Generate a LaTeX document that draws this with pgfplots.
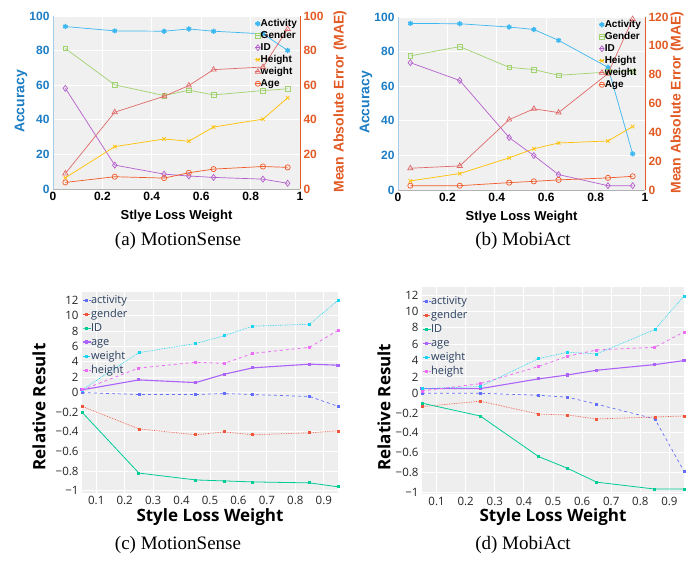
\documentclass[border=0pt]{standalone}
\usepackage{pgfplots}
\pgfplotsset{compat=1.18}
\usepackage{fontspec}
\setmainfont{Liberation Serif}
\newfontfamily\helv{Liberation Sans}
\newfontfamily\osans{Open Sans}

\definecolor{accblue}{RGB}{28,125,196}
\definecolor{maeor}{RGB}{226,90,36}
\definecolor{cAct}{RGB}{60,184,240}
\definecolor{cGen}{RGB}{160,210,110}
\definecolor{cID}{RGB}{180,95,205}
\definecolor{cHei}{RGB}{255,192,0}
\definecolor{cWei}{RGB}{225,105,105}
\definecolor{cAge}{RGB}{240,90,40}
\definecolor{topbg}{RGB}{240,240,240}
\definecolor{pAct}{RGB}{99,110,250}
\definecolor{pGen}{RGB}{239,85,59}
\definecolor{pID}{RGB}{0,204,150}
\definecolor{pAge}{RGB}{171,99,250}
\definecolor{pWei}{RGB}{25,211,243}
\definecolor{pHei}{RGB}{235,110,245}
\definecolor{botbg}{RGB}{238,238,238}
\definecolor{legtxt}{RGB}{42,63,95}

\pgfplotsset{
  topbase/.style={
    scale only axis, width=247pt, height=173pt,
    xmin=0, xmax=1, ymin=0,
    xtick={0,0.2,0.4,0.6,0.8,1},
    major tick length=0pt,
    tick label style={font=\helv\bfseries\fontsize{12}{14}\selectfont},
    /pgf/number format/assume math mode=true,
    label style={font=\helv\bfseries\fontsize{14}{16}\selectfont},
  },
  topleft/.style={
    topbase, ymax=100, ytick={0,20,40,60,80,100},
    axis x line*=bottom, axis y line*=left,
    x axis line style={gray!60,-}, y axis line style={accblue!40,-},
    axis background/.style={fill=topbg},
    grid=major, major grid style={white, line width=0.8pt},
    yticklabel style={accblue},
    ylabel={Accuracy}, ylabel style={accblue, at={(axis description cs:-0.13,0.506)}, anchor=center},
    xlabel={Stlye Loss Weight}, xlabel style={font=\helv\bfseries\fontsize{13}{15}\selectfont, at={(axis description cs:0.5,-0.155)}, anchor=center},
  },
  topright/.style={
    topbase, axis x line=none, axis y line*=right,
    y axis line style={maeor,-},
    yticklabel style={maeor},
    ylabel={Mean Absolute Error (MAE)}, ylabel style={maeor, anchor=center},
    legend cell align=left,
    legend style={anchor=north west, draw=none, fill=none, inner sep=0pt, outer sep=0pt, row sep=0pt,
      font=\helv\bfseries\fontsize{10}{12}\selectfont,
      nodes={inner sep=0pt, text height=8.5pt, text depth=3.5pt},
      /tikz/every even column/.append style={column sep=1pt}},
    legend image code/.code={\draw[mark repeat=2, mark phase=2, #1] plot coordinates {(-2.5pt,0pt) (0pt,0pt) (2.5pt,0pt)};},
  },
  sAct/.style={cAct, line width=0.7pt, mark=asterisk, mark size=2.6pt, mark options={line width=1.4pt}},
  sGen/.style={cGen, line width=0.7pt, mark=square, mark size=2.3pt},
  sID/.style={cID, line width=0.7pt, mark=diamond, mark size=3pt},
  sHei/.style={cHei, line width=0.7pt, mark=x, mark size=2.5pt},
  sWei/.style={cWei, line width=0.7pt, mark=triangle, mark size=3pt},
  sAge/.style={cAge, line width=0.7pt, mark=o, mark size=2.6pt},
  botbase/.style={
    scale only axis,
    xmin=0.05, xmax=0.95,
    xtick={0.1,0.2,0.3,0.4,0.5,0.6,0.7,0.8,0.9},
    ytick={-1,-0.8,-0.6,-0.4,-0.2,0,2,4,6,8,10,12},
    yticklabels={−1,−0.8,−0.6,−0.4,−0.2,0,2,4,6,8,10,12},
    axis line style={draw=none},
    axis background/.style={fill=botbg},
    grid=major, major grid style={white, line width=1pt},
    major tick length=0pt,
    tick label style={font=\osans\fontsize{11.5}{13}\selectfont, text=black!85},
    /pgf/number format/assume math mode=true,
    xlabel={Style Loss Weight}, ylabel={Relative Result},
    label style={font=\osans\bfseries\fontsize{17}{20}\selectfont, anchor=center},
    legend cell align=left,
    legend style={anchor=north west, draw=none, fill=none, inner sep=0pt, outer sep=0pt, row sep=0pt,
      font=\osans\fontsize{11}{13}\selectfont, text=legtxt,
      nodes={inner sep=0pt, text height=10pt, text depth=4pt},
      /tikz/every even column/.append style={column sep=1.5pt}},
    legend image code/.code={\draw[mark repeat=2, mark phase=2, #1] plot coordinates {(0pt,0pt) (4pt,0pt) (8pt,0pt)};},
  },
  bAct/.style={pAct, line width=0.7pt, dashed, mark=square*, mark size=1pt, mark options={solid}},
  bGen/.style={pGen, line width=0.7pt, densely dotted, mark=square*, mark size=1pt, mark options={solid}},
  bID/.style={pID, line width=0.8pt, mark=square*, mark size=1pt},
  bAge/.style={pAge, line width=1.1pt, mark=square*, mark size=1pt},
  bWei/.style={pWei, line width=0.7pt, densely dotted, mark=square*, mark size=1pt, mark options={solid}},
  bHei/.style={pHei, line width=0.8pt, dashed, mark=square*, mark size=1pt, mark options={solid}},
}

\begin{document}
\begin{tikzpicture}
\path[use as bounding box] (0,0) rectangle (695pt,560pt);

% (a) MotionSense
\begin{axis}[topleft, at={(53pt,371pt)}, anchor=south west]
\addplot[sAct] coordinates {(0.05,93.9) (0.25,91.4) (0.45,91.2) (0.55,92.5) (0.65,91.2) (0.85,89.7) (0.95,80.1)};
\addplot[sGen] coordinates {(0.05,81.2) (0.25,60.2) (0.45,54.0) (0.55,57.1) (0.65,54.4) (0.85,56.9) (0.95,57.9)};
\addplot[sID] coordinates {(0.05,58.2) (0.25,13.8) (0.45,8.6) (0.55,7.5) (0.65,6.7) (0.85,5.7) (0.95,3.3)};
\end{axis}
\begin{axis}[topright, at={(53pt,371pt)}, anchor=south west, ymax=100, ytick={0,20,40,60,80,100},
  ylabel style={at={(axis description cs:1.162,0.506)}},
  legend style={at={(axis description cs:0.818,0.99)}}]
\addlegendimage{sAct}
\addlegendimage{sGen}
\addlegendimage{sID}
\addplot[sHei] coordinates {(0.05,6.5) (0.25,24.5) (0.45,28.9) (0.55,27.6) (0.65,35.8) (0.85,40.4) (0.95,52.7)};
\addplot[sWei] coordinates {(0.05,9.0) (0.25,44.4) (0.45,53.6) (0.55,59.8) (0.65,69.0) (0.85,70.5) (0.95,92.5)};
\addplot[sAge] coordinates {(0.05,3.8) (0.25,7.1) (0.45,6.3) (0.55,9.4) (0.65,11.5) (0.85,13.0) (0.95,12.5)};
\legend{Activity,Gender,ID,Height,weight,Age}
\end{axis}

% (b) MobiAct
\begin{axis}[topleft, at={(398pt,370pt)}, anchor=south west]
\addplot[sAct] coordinates {(0.05,96.3) (0.25,96.1) (0.45,94.2) (0.55,92.8) (0.65,86.5) (0.85,70.9) (0.95,20.9)};
\addplot[sGen] coordinates {(0.05,77.5) (0.25,82.9) (0.45,70.9) (0.55,69.6) (0.65,66.3) (0.85,68.2) (0.95,68.5)};
\addplot[sID] coordinates {(0.05,73.6) (0.25,63.3) (0.45,30.3) (0.55,19.9) (0.65,8.9) (0.85,2.5) (0.95,2.5)};
\end{axis}
\begin{axis}[topright, at={(398pt,370pt)}, anchor=south west, ymax=120, ytick={0,20,40,60,80,100,120},
  ylabel style={at={(axis description cs:1.13,0.506)}},
  legend style={at={(axis description cs:0.814,0.99)}}]
\addlegendimage{sAct}
\addlegendimage{sGen}
\addlegendimage{sID}
\addplot[sHei] coordinates {(0.05,6.3) (0.25,11.4) (0.45,22.3) (0.55,28.6) (0.65,32.6) (0.85,34.0) (0.95,44.0)};
\addplot[sWei] coordinates {(0.05,15.1) (0.25,16.7) (0.45,48.8) (0.55,56.3) (0.65,53.7) (0.85,80.7) (0.95,118.6)};
\addplot[sAge] coordinates {(0.05,3.0) (0.25,3.0) (0.45,5.1) (0.55,6.0) (0.65,7.0) (0.85,8.4) (0.95,9.5)};
\legend{Activity,Gender,ID,Height,weight,Age}
\end{axis}

% (c) MotionSense
\begin{axis}[botbase, at={(82pt,67pt)}, anchor=south west, width=256pt, height=201pt,
  ymin=-1.023, ymax=13.1,
  y coord trafo/.code={\pgfmathparse{#1>0 ? #1*0.0782 : #1}},
  y coord inv trafo/.code={\pgfmathparse{#1>0 ? #1/0.0782 : #1}},
  xlabel style={at={(axis description cs:0.5,-0.119)}},
  ylabel style={at={(axis description cs:-0.168,0.428)}},
  legend style={at={(axis description cs:0.0,0.995)}}]
\addplot[bAct] coordinates {(0.05,0) (0.25,-0.02) (0.45,-0.02) (0.55,-0.01) (0.65,-0.02) (0.85,-0.04) (0.95,-0.14)};
\addplot[bGen] coordinates {(0.05,-0.14) (0.25,-0.37) (0.45,-0.43) (0.55,-0.40) (0.65,-0.43) (0.85,-0.41) (0.95,-0.39)};
\addplot[bID] coordinates {(0.05,-0.20) (0.25,-0.82) (0.45,-0.89) (0.55,-0.90) (0.65,-0.91) (0.85,-0.92) (0.95,-0.96)};
\addplot[bAge] coordinates {(0.05,0.35) (0.25,1.65) (0.45,1.30) (0.55,2.39) (0.65,3.22) (0.85,3.70) (0.95,3.57)};
\addplot[bWei] coordinates {(0.05,0.35) (0.25,5.2) (0.45,6.4) (0.55,7.4) (0.65,8.65) (0.85,8.9) (0.95,12.0)};
\addplot[bHei] coordinates {(0.05,0.35) (0.25,3.2) (0.45,3.95) (0.55,3.8) (0.65,5.1) (0.85,5.9) (0.95,8.1)};
\legend{activity,gender,ID,age,weight,height}
\end{axis}

% (d) MobiAct
\begin{axis}[botbase, at={(422pt,66pt)}, anchor=south west, width=262pt, height=207pt,
  ymin=-1.02, ymax=13.0,
  y coord trafo/.code={\pgfmathparse{#1>0 ? #1*0.0828 : #1}},
  y coord inv trafo/.code={\pgfmathparse{#1>0 ? #1/0.0828 : #1}},
  xlabel style={at={(axis description cs:0.5,-0.111)}},
  ylabel style={at={(axis description cs:-0.145,0.42)}},
  legend style={at={(axis description cs:0.0,0.965)}}]
\addplot[bAct] coordinates {(0.05,0) (0.25,0) (0.45,-0.02) (0.55,-0.04) (0.65,-0.11) (0.85,-0.26) (0.95,-0.79)};
\addplot[bGen] coordinates {(0.05,-0.135) (0.25,-0.08) (0.45,-0.21) (0.55,-0.22) (0.65,-0.26) (0.85,-0.24) (0.95,-0.23)};
\addplot[bID] coordinates {(0.05,-0.10) (0.25,-0.23) (0.45,-0.64) (0.55,-0.76) (0.65,-0.90) (0.85,-0.97) (0.95,-0.97)};
\addplot[bAge] coordinates {(0.05,0.57) (0.25,0.57) (0.45,1.76) (0.55,2.24) (0.65,2.82) (0.85,3.51) (0.95,4.0)};
\addplot[bWei] coordinates {(0.05,0.57) (0.25,0.82) (0.45,4.24) (0.55,5.02) (0.65,4.82) (0.85,7.8) (0.95,11.9)};
\addplot[bHei] coordinates {(0.05,0.29) (0.25,1.18) (0.45,3.27) (0.55,4.53) (0.65,5.3) (0.85,5.63) (0.95,7.5)};
\legend{activity,gender,ID,age,weight,height}
\end{axis}

\node[font=\fontsize{19}{22}\selectfont] at (178pt,319pt) {(a) MotionSense};
\node[font=\fontsize{19}{22}\selectfont] at (523pt,319pt) {(b) MobiAct};
\node[font=\fontsize{19}{22}\selectfont] at (178pt,15pt) {(c) MotionSense};
\node[font=\fontsize{19}{22}\selectfont] at (523pt,15pt) {(d) MobiAct};
\end{tikzpicture}
\end{document}
